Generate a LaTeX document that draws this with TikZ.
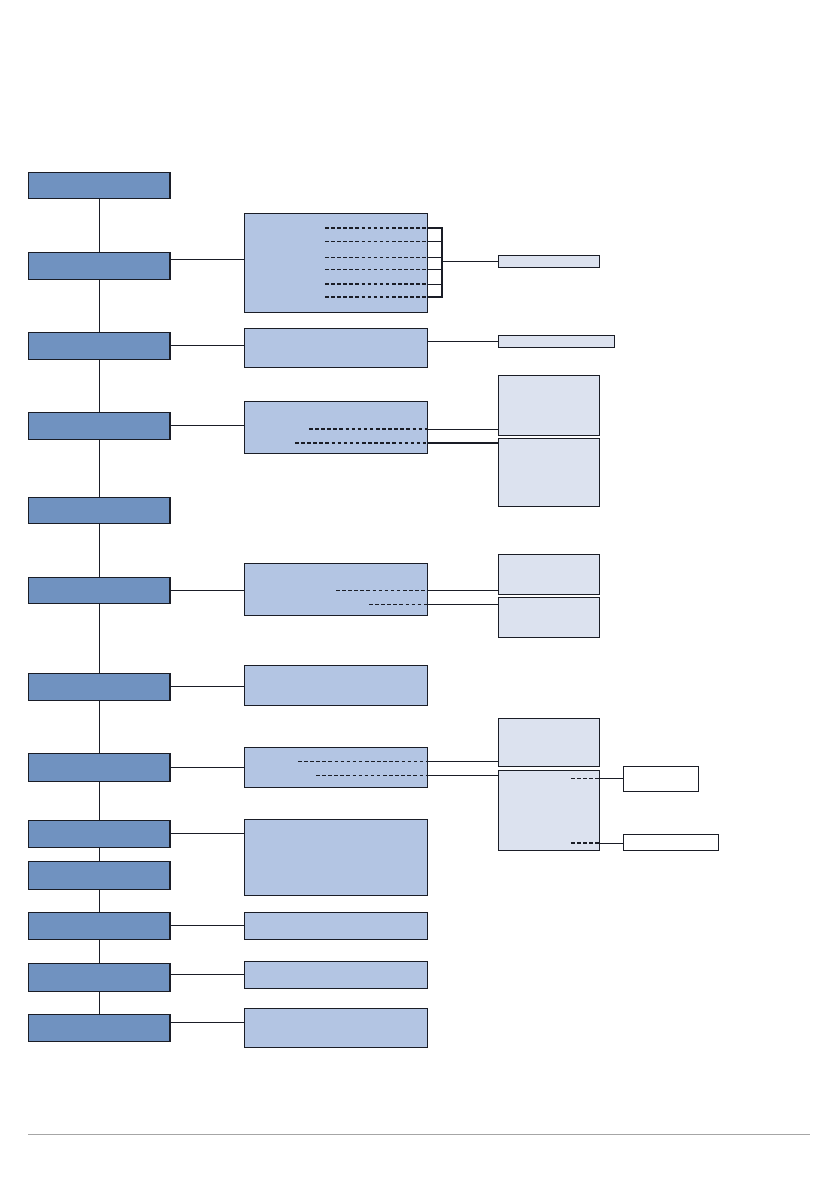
\documentclass[tikz,border=0pt]{standalone}
\usepackage{tikz}
\usetikzlibrary{calc}
\definecolor{lvlblue}{HTML}{7092C0}
\definecolor{midblue}{HTML}{B3C5E3}
\definecolor{subblue}{HTML}{DCE2EF}
\definecolor{edge}{HTML}{1A1D26}
\tikzset{lvlbox/.style={draw=edge,fill=lvlblue,line width=0.7pt,anchor=north west,inner sep=0pt,outer sep=0pt,minimum width=4.26cm},midbox/.style={draw=edge,fill=midblue,line width=0.8pt,anchor=north west,inner sep=0pt,outer sep=0pt,minimum width=5.49cm},subbox/.style={draw=edge,fill=subblue,line width=0.8pt,anchor=north west,inner sep=0pt,outer sep=0pt,minimum width=3.03cm},plainbox/.style={draw=edge,fill=white,line width=0.8pt,anchor=north west,inner sep=0pt,outer sep=0pt},link/.style={draw=edge,line width=0.6pt},boldlink/.style={draw=edge,line width=1.2pt},lead/.style={draw=edge,line width=0.6pt,dash pattern=on 3pt off 2.2pt},boldlead/.style={draw=edge,line width=1.2pt,dash pattern=on 3pt off 2.2pt}}

\begin{document}
\begin{tikzpicture}[x=0.03cm,y=-0.03cm]
\useasboundingbox (0,0) rectangle (839,1191);
% left column
\foreach \i/\y/\h in {1/172/0.78,2/252/0.81,3/332/0.81,4/412/0.81,5/497/0.78,6/577/0.78,7/673/0.81,8/753/0.84,9/820/0.81,10/861/0.84,11/912/0.81,12/963/0.84,13/1014/0.81}{\node[lvlbox,minimum height=\h cm] (lvl\i) at (28,\y) {};
\draw[edge,line width=1.5pt] (lvl\i.north east) -- (lvl\i.south east);}
\foreach \a/\b in {1/2,2/3,3/4,4/5,5/6,6/7,7/8,8/9,9/10,10/11,11/12,12/13}{\draw[link] (lvl\a.south) -- (lvl\b.north);}
% middle column
\foreach \n/\y/\h in {A/213/2.97,B/328/1.17,C/401/1.56,D/563/1.56,E/665/1.2,F/747/1.2,G/819/2.28,H/912/0.81,I/961/0.81,J/1008/1.17}{\node[midbox,minimum height=\h cm] (mid\n) at (244,\y) {};}
\foreach \l/\m/\dy in {2/A/-6.5,3/B/0,4/C/0,6/D/0,7/E/0,8/F/0,9/G/0,12/I/-3,13/J/-5.5}{\draw[link] ($(lvl\l.east)+(0,\dy)$) coordinate (s) -- (s -| mid\m.west);}
\draw[boldlink] (lvl11.east) -- (midH.west);
% right column
\node[subbox,minimum height=0.36cm] (sub1) at (498,255) {};
\node[subbox,minimum width=3.48cm,minimum height=0.36cm] (sub2) at (498,335) {};
\node[subbox,minimum height=1.8cm] (sub3) at (498,375) {};
\node[subbox,minimum height=2.04cm] (sub4) at (498,438) {};
\node[subbox,minimum height=1.2cm] (sub5) at (498,554) {};
\node[subbox,minimum height=1.2cm] (sub6) at (498,597) {};
\node[subbox,minimum height=1.44cm] (sub7) at (498,718) {};
\node[subbox,minimum height=2.4cm] (sub8) at (498,770) {};
\node[plainbox,minimum width=2.25cm,minimum height=0.75cm] (end1) at (623,766) {};
\node[plainbox,minimum width=2.85cm,minimum height=0.48cm] (end2) at (623,834) {};
% leaders in box A and bracket
\foreach \y/\s in {228/boldlead,241/lead,257/lead,269/lead,284/boldlead,297/boldlead}{\draw[\s] (325,\y) -- (427,\y); \draw[link] (427,\y) -- (442,\y);}
\draw[boldlink] (427,228) -- (442,228) -- (442,297) -- (427,297);
\coordinate (brk) at (442,261);
\draw[link] (brk) -- (brk -| sub1.west);
\draw[link] (midB.east |- sub2.west) -- (sub2.west);
% leaders in box C
\draw[boldlead] (309,429) coordinate (c1) -- (c1 -| midC.east);
\draw[boldlead] (295,443) coordinate (c2) -- (c2 -| midC.east);
\draw[link] (c1 -| midC.east) -- (c1 -| sub3.west);
\draw[boldlink] (c2 -| midC.east) -- (c2 -| sub4.west);
% leaders in box D
\draw[lead] (336,590) coordinate (d1) -- (d1 -| midD.east);
\draw[lead] (369,604) coordinate (d2) -- (d2 -| midD.east);
\draw[link] (d1 -| midD.east) -- (d1 -| sub5.west);
\draw[link] (d2 -| midD.east) -- (d2 -| sub6.west);
% leaders in box F
\draw[lead] (298,761) coordinate (f1) -- (f1 -| midF.east);
\draw[lead] (316,775) coordinate (f2) -- (f2 -| midF.east);
\draw[link] (f1 -| midF.east) -- (f1 -| sub7.west);
\draw[link] (f2 -| midF.east) -- (f2 -| sub8.west);
% leaders in box 8
\draw[lead] (571,778) coordinate (g1) -- (g1 -| sub8.east);
\draw[boldlead] (571,843) coordinate (g2) -- (g2 -| sub8.east);
\draw[link] (g1 -| sub8.east) -- (g1 -| end1.west);
\draw[link] (g2 -| sub8.east) -- (g2 -| end2.west);
% footer rule
\draw[gray!70,line width=0.8pt] (28,1134) -- (810,1134);
\end{tikzpicture}
\end{document}
